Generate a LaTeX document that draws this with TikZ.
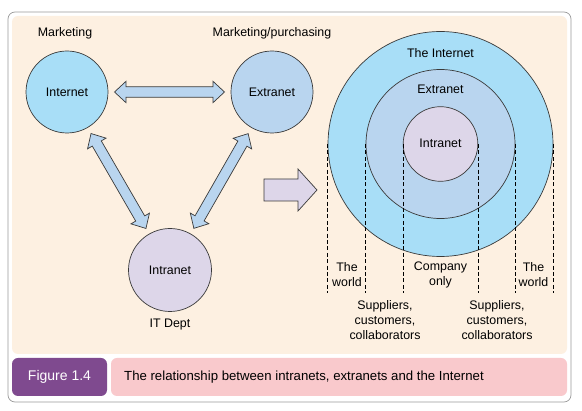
\documentclass[tikz,border=0pt]{standalone}
\usepackage{fontspec}
\setmainfont{Liberation Sans}
\usetikzlibrary{calc}
\definecolor{peach}{HTML}{FDF0E1}
\definecolor{netblue}{HTML}{A8DEF7}
\definecolor{extblue}{HTML}{B9D5EF}
\definecolor{intlil}{HTML}{DDD6E9}
\definecolor{capurple}{HTML}{7F4A8F}
\definecolor{capink}{HTML}{F9C9CC}
\definecolor{framegray}{HTML}{9A9A9A}
\definecolor{edge}{HTML}{3A3A3A}
\newcommand{\dblarrow}[2]{%
  \coordinate (HA) at ($(#1)!11.5pt!(#2)$);
  \coordinate (HB) at ($(#2)!11.5pt!(#1)$);
  \draw[blockarrow] (#1) -- ($(HA)!10.7pt!90:(#2)$) -- ($(HA)!5.2pt!90:(#2)$)
    -- ($(HB)!5.2pt!-90:(#1)$) -- ($(HB)!10.7pt!-90:(#1)$) -- (#2)
    -- ($(HB)!10.7pt!90:(#1)$) -- ($(HB)!5.2pt!90:(#1)$)
    -- ($(HA)!5.2pt!-90:(#2)$) -- ($(HA)!10.7pt!-90:(#2)$) -- cycle;}
\begin{document}
\begin{tikzpicture}[x=1pt,y=-1pt,
  txt/.style={font=\fontsize{12.4}{15}\selectfont, text=black, inner sep=0, align=center},
  captxt/.style={font=\fontsize{13.2}{15}\selectfont, text=black, inner sep=0},
  circ/.style={circle, draw=edge, line width=0.7pt, inner sep=0},
  blockarrow/.style={fill=extblue, draw=edge, line width=0.7pt, line join=miter},
  dashline/.style={draw=black, line width=0.7pt, dash pattern=on 4pt off 2.4pt}]
\useasboundingbox (0,0) rectangle (582,411);
% frame
\draw[framegray, line width=0.7pt, fill=white, rounded corners=7pt] (8,12) rectangle (571,402);
\fill[peach, rounded corners=6pt] (12,16) rectangle (567,354);
\fill[capurple, rounded corners=6pt] (12,358) rectangle (107,396);
\fill[capink, rounded corners=6pt] (111,358) rectangle (567,396);
\node[captxt, font=\fontsize{14}{15}\selectfont, text=white, anchor=center] (figlab) at (59.5,377) {Figure 1.4};
\node[captxt, anchor=west] (caption) at (124,377) {The relationship between intranets, extranets and the Internet};
% left diagram
\node[circ, fill=netblue, minimum size=82pt] (inet) at (67,92) {};
\node[circ, fill=extblue, minimum size=82pt] (ext) at (272,92) {};
\node[circ, fill=intlil, minimum size=83pt] (intr) at (170,270) {};
\node[txt] at (inet.center) {Internet};
\node[txt] at (ext.center) {Extranet};
\node[txt] at (intr.center) {Intranet};
\node[txt] (mkt) at (65,33) {Marketing};
\node[txt] (mktp) at (272,33) {Marketing/purchasing};
\node[txt] (itd) at (170,325) {IT Dept};
\coordinate (a1) at ($(inet.center)!47.5pt!(ext.center)$);
\coordinate (a2) at ($(ext.center)!47.5pt!(inet.center)$);
\coordinate (b1) at ($(inet.center)!48pt!(intr.center)$);
\coordinate (b2) at ($(intr.center)!48pt!(inet.center)$);
\coordinate (c1) at ($(ext.center)!48pt!(intr.center)$);
\coordinate (c2) at ($(intr.center)!48pt!(ext.center)$);
\dblarrow{a1}{a2}
\dblarrow{b1}{b2}
\dblarrow{c1}{c2}
% big arrow
\draw[fill=intlil, draw=edge, line width=0.7pt] (264,179) -- (298,179) -- (298,169) -- (317,190) -- (298,211) -- (298,201) -- (264,201) -- cycle;
% right diagram
\node[circ, fill=netblue, minimum size=225pt] (bigI) at (440.5,144) {};
\node[circ, fill=extblue, minimum size=149pt] (bigE) at (440.5,144) {};
\node[circ, fill=intlil, minimum size=74.6pt] (bigN) at (440.5,144) {};
\node[txt] (lI) at (440.5,53) {The Internet};
\node[txt] (lE) at (440.5,89) {Extranet};
\node[txt] (lN) at (440.5,143) {Intranet};
\coordinate (bot) at (0,293);
\foreach \n/\a in {bigI/west, bigE/west, bigN/west, bigN/east, bigE/east, bigI/east}
  \draw[dashline] (\n.\a) -- (\n.\a |- bot);
\node[txt] (w1) at (347,275) {The\\world};
\node[txt] (co) at (440.5,275) {Company\\only};
\node[txt] (w2) at (533.5,275) {The\\world};
\node[txt] (s1) at (385,320) {Suppliers,\\customers,\\collaborators};
\node[txt] (s2) at (497,320) {Suppliers,\\customers,\\collaborators};
\end{tikzpicture}
\end{document}
